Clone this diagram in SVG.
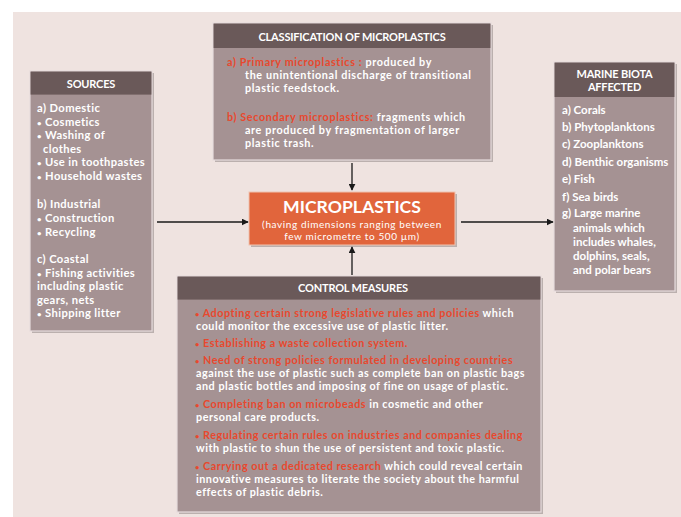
<svg xmlns="http://www.w3.org/2000/svg" width="681" height="517" viewBox="0 0 681 517">
<defs>
<style>
.bg{fill:#efe3e0}
.shadow{fill:#7d7070;opacity:0.45}
.body{fill:#a59293;stroke:#e6dcdc;stroke-width:1.2}
.head{fill:#6a5959}
.t{font-family:Lato,"Open Sans","Liberation Sans",sans-serif;font-weight:700;font-size:12px;fill:#ffffff}
.s{font-size:11.2px;letter-spacing:0.4px}
.m{font-size:11.5px}
.c{font-size:10.8px;letter-spacing:0.52px}
.k{font-size:10.8px;letter-spacing:0.62px}
.b{font-size:0.7em}
.h{font-family:Lato,"Open Sans","Liberation Sans",sans-serif;font-weight:700;font-size:11px;fill:#ffffff;text-anchor:middle;letter-spacing:-0.2px}
.r{fill:#e8482e}
.conn{stroke:#1a1a1a;stroke-width:1.3;fill:none;marker-end:url(#ah)}
</style>
<marker id="ah" viewBox="0 0 10 10" refX="9" refY="5" markerWidth="7" markerHeight="7" markerUnits="userSpaceOnUse" orient="auto">
<path d="M0,0 L10,5 L0,10 z" fill="#1a1a1a"/>
</marker>
</defs>
<rect x="0" y="0" width="681" height="517" fill="#ffffff"/>
<rect class="bg" x="13" y="12" width="668" height="505"/>

<g id="classification">
<rect class="shadow" x="215" y="25" width="278" height="137"/>
<rect class="body" x="213" y="23" width="278" height="137"/>
<rect class="head" x="213.6" y="23.6" width="276.8" height="24.4"/>
<text class="h" x="352" y="40.5">CLASSIFICATION OF MICROPLASTICS</text>
<text class="t k" x="227" y="66"><tspan class="r">a) Primary microplastics :</tspan> produced by</text>
<text class="t k" x="245" y="79">the unintentional discharge of transitional</text>
<text class="t k" x="245" y="92">plastic feedstock.</text>
<text class="t k" x="227" y="121"><tspan class="r">b) Secondary microplastics:</tspan> fragments which</text>
<text class="t k" x="245" y="134">are produced by fragmentation of larger</text>
<text class="t k" x="245" y="147">plastic trash.</text>
</g>

<g id="sources">
<rect class="shadow" x="32" y="73" width="122" height="260"/>
<rect class="body" x="30" y="71" width="122" height="260"/>
<rect class="head" x="30.6" y="71.6" width="120.8" height="23"/>
<text class="h" x="91" y="88">SOURCES</text>
<text class="t s" x="37" y="112">a) Domestic</text>
<text class="t s" x="37" y="125.5"><tspan class="b">•</tspan> Cosmetics</text>
<text class="t s" x="37" y="139"><tspan class="b">•</tspan> Washing of</text>
<text class="t s" x="43" y="152.5">clothes</text>
<text class="t s" x="37" y="166"><tspan class="b">•</tspan> Use in toothpastes</text>
<text class="t s" x="37" y="180"><tspan class="b">•</tspan> Household wastes</text>
<text class="t s" x="37" y="208">b) Industrial</text>
<text class="t s" x="37" y="221.5"><tspan class="b">•</tspan> Construction</text>
<text class="t s" x="37" y="235.5"><tspan class="b">•</tspan> Recycling</text>
<text class="t s" x="37" y="263">c) Coastal</text>
<text class="t s" x="37" y="276.5"><tspan class="b">•</tspan> Fishing activities</text>
<text class="t s" x="37" y="290">including plastic</text>
<text class="t s" x="37" y="303.5">gears, nets</text>
<text class="t s" x="37" y="317"><tspan class="b">•</tspan> Shipping litter</text>
</g>

<g id="biota">
<rect class="shadow" x="556" y="64" width="121" height="229"/>
<rect class="body" x="554" y="62" width="121" height="229"/>
<rect class="head" x="554.6" y="62.6" width="119.8" height="34.4"/>
<text class="h" x="614.5" y="78">MARINE BIOTA</text>
<text class="h" x="614.5" y="91">AFFECTED</text>
<text class="t m" x="562" y="114">a) Corals</text>
<text class="t m" x="562" y="131">b) Phytoplanktons</text>
<text class="t m" x="562" y="148">c) Zooplanktons</text>
<text class="t m" x="562" y="166">d) Benthic organisms</text>
<text class="t m" x="562" y="183">e) Fish</text>
<text class="t m" x="562" y="201">f) Sea birds</text>
<text class="t m" x="562" y="217">g) Large marine</text>
<text class="t m" x="573" y="231.5">animals which</text>
<text class="t m" x="573" y="245.5">includes whales,</text>
<text class="t m" x="573" y="259.5">dolphins, seals,</text>
<text class="t m" x="573" y="273.5">and polar bears</text>
</g>

<g id="microplastics">
<rect class="shadow" x="251" y="194" width="206" height="53"/>
<rect x="249" y="192" width="206" height="53" fill="#e1653c" stroke="#f0c4b0" stroke-width="1"/>
<text x="352" y="213" font-family="Lato,'Open Sans','Liberation Sans',sans-serif" font-weight="700" font-size="17.6" fill="#ffffff" text-anchor="middle">MICROPLASTICS</text>
<text x="352" y="227.5" font-family="Lato,'Open Sans','Liberation Sans',sans-serif" font-weight="400" font-size="10" letter-spacing="0.6" fill="#ffffff" text-anchor="middle">(having dimensions ranging between</text>
<text x="352" y="239.5" font-family="Lato,'Open Sans','Liberation Sans',sans-serif" font-weight="400" font-size="10" letter-spacing="0.6" fill="#ffffff" text-anchor="middle">few micrometre to 500 µm)</text>
</g>

<g id="control">
<rect class="shadow" x="179" y="278" width="364" height="236"/>
<rect class="body" x="177" y="276" width="364" height="236"/>
<rect class="head" x="177.6" y="276.6" width="362.8" height="23"/>
<text class="h" x="353" y="292">CONTROL MEASURES</text>
<text class="t c" x="195" y="317"><tspan class="r"><tspan class="b">•</tspan> Adopting certain strong legislative rules and policies</tspan> which</text>
<text class="t c" x="196" y="330">could monitor the excessive use of plastic litter.</text>
<text class="t c" x="195" y="347"><tspan class="r"><tspan class="b">•</tspan> Establishing a waste collection system.</tspan></text>
<text class="t c" x="195" y="364"><tspan class="r"><tspan class="b">•</tspan> Need of strong policies formulated in developing countries</tspan></text>
<text class="t c" x="196" y="377">against the use of plastic such as complete ban on plastic bags</text>
<text class="t c" x="196" y="390">and plastic bottles and imposing of fine on usage of plastic.</text>
<text class="t c" x="195" y="408"><tspan class="r"><tspan class="b">•</tspan> Completing ban on microbeads</tspan> in cosmetic and other</text>
<text class="t c" x="196" y="421">personal care products.</text>
<text class="t c" x="195" y="439"><tspan class="r"><tspan class="b">•</tspan> Regulating certain rules on industries and companies dealing</tspan></text>
<text class="t c" x="196" y="452">with plastic to shun the use of persistent and toxic plastic.</text>
<text class="t c" x="195" y="470"><tspan class="r"><tspan class="b">•</tspan> Carrying out a dedicated research</tspan> which could reveal certain</text>
<text class="t c" x="196" y="483">innovative measures to literate the society about the harmful</text>
<text class="t c" x="196" y="496">effects of plastic debris.</text>
</g>

<g id="connectors">
<line class="conn" x1="157" y1="222" x2="248" y2="222"/>
<line class="conn" x1="461" y1="222" x2="553" y2="222"/>
<line class="conn" x1="352" y1="163" x2="352" y2="190"/>
<line class="conn" x1="352" y1="275" x2="352" y2="247"/>
</g>
</svg>
